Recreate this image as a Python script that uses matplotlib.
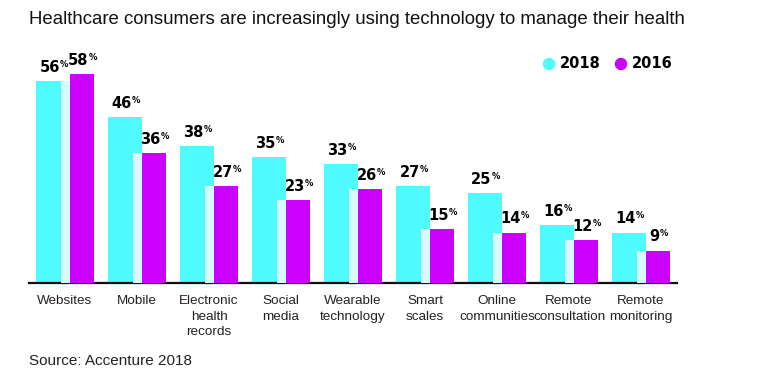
import matplotlib.pyplot as plt
from matplotlib.patches import Ellipse
import numpy as np

categories = ["Websites", "Mobile", "Electronic\nhealth\nrecords", "Social\nmedia",
              "Wearable\ntechnology", "Smart\nscales", "Online\ncommunities",
              "Remote\nconsultation", "Remote\nmonitoring"]
vals_2018 = [56, 46, 38, 35, 33, 27, 25, 16, 14]
vals_2016 = [58, 36, 27, 23, 26, 15, 14, 12, 9]

cyan = "#4FFBFF"
magenta = "#CC00FF"
light = "#D6FAFD"

fig = plt.figure(figsize=(7.6, 3.74), dpi=100)
ax = fig.add_axes([29 / 760, 1 - 283 / 374, 648 / 760, 223 / 374])

x = np.arange(len(categories))
lo = np.minimum(vals_2018, vals_2016)

# cyan bar, light strip on its right part, magenta bar next to it
ax.bar(x - 0.403, vals_2018, width=0.472, align="edge", color=cyan, zorder=2)
ax.bar(x - 0.056, lo, width=0.125, align="edge", color=light, zorder=3)
ax.bar(x + 0.069, vals_2016, width=0.334, align="edge", color=magenta, zorder=3)


def pct_label(xc, v):
    t = ax.annotate(str(v), xy=(xc, v), xytext=(-2.5, 4.5), textcoords="offset points",
                    ha="center", va="bottom", fontsize=10.5, fontweight="bold",
                    family="DejaVu Sans", zorder=5)
    ax.annotate("%", xy=(1, 1), xycoords=t, xytext=(0.3, 0), textcoords="offset points",
                ha="left", va="top", fontsize=6, fontweight="bold", family="DejaVu Sans")


for i in x:
    pct_label(i - 0.403 + 0.236, vals_2018[i])
    pct_label(i + 0.069 + 0.167, vals_2016[i])

ax.set_xlim(-0.5, 8.5)
ax.set_ylim(0, 223 / 3.6)
for s in ["top", "right", "left"]:
    ax.spines[s].set_visible(False)
ax.spines["bottom"].set_linewidth(1.6)
ax.spines["bottom"].set_color("#111111")
ax.set_yticks([])
ax.set_xticks(x)
ax.set_xticklabels(categories, fontsize=9.7, family="Liberation Sans", linespacing=1.35,
                   color="#222222")
ax.tick_params(axis="x", length=0, pad=9)

fig.text(29 / 760, 1 - 20 / 374, "Healthcare consumers are increasingly using technology to manage their health",
         fontsize=13.4, family="Liberation Sans", va="center", ha="left", color="#111111")
fig.text(29 / 760, 1 - 361 / 374, "Source: Accenture 2018", fontsize=11, family="Liberation Sans",
         va="center", ha="left", color="#222222")

# legend
for cx, lab, col in [(549, "2018", cyan), (621, "2016", magenta)]:
    fig.add_artist(Ellipse((cx / 760, 1 - 64 / 374), 11 / 760, 11 / 374, color=col,
                           transform=fig.transFigure))
    fig.text((cx + 11) / 760, 1 - 64 / 374, lab, fontsize=10.5, fontweight="bold",
             family="DejaVu Sans", va="center", ha="left")

fig.savefig("out.png", dpi=100)
